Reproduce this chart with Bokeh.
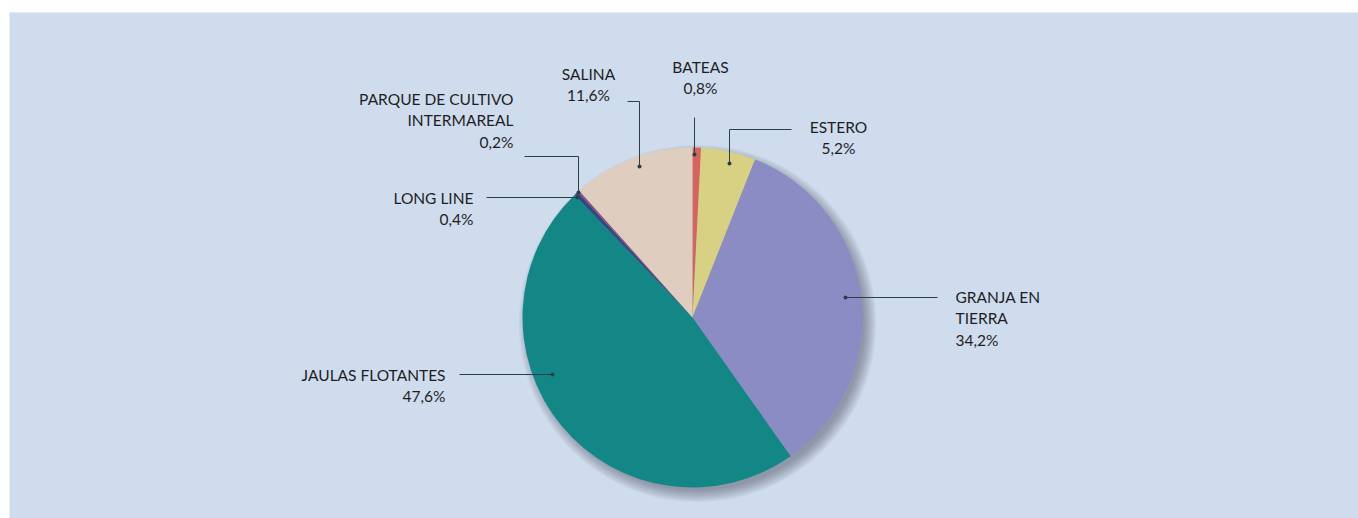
import numpy as np
from bokeh.plotting import figure
from bokeh.models import Range1d, ColumnDataSource
from bokeh.core.properties import value
from bokeh.embed import file_html
from bokeh.resources import INLINE

# ---- data ----
categories = ["BATEAS", "ESTERO", "GRANJA EN TIERRA", "JAULAS FLOTANTES",
              "LONG LINE", "PARQUE DE CULTIVO INTERMAREAL", "SALINA"]
shares = [0.8, 5.2, 34.2, 47.6, 0.4, 0.2, 11.6]
share_labels = ["0,8%", "5,2%", "34,2%", "47,6%", "0,4%", "0,2%", "11,6%"]
colors = ["#D9625F", "#D8D083", "#8C8CC5", "#138786", "#2C4B85", "#9B4C78", "#DFCDBF"]

# ---- layout (screen pixel coords inside page; y downwards) ----
TOP, BOTTOM, LEFT, RIGHT = 12, 518, 9, 1358
CX, CY, R = 692, 317, 170

def sy(y):
    return BOTTOM - y

# label text: (lines, x, first-line y, align)
label_layout = {
    "BATEAS": (["BATEAS"], 700, 66, "center"),
    "ESTERO": (["ESTERO"], 838, 126, "center"),
    "GRANJA EN TIERRA": (["GRANJA EN", "TIERRA"], 955, 296, "left"),
    "JAULAS FLOTANTES": (["JAULAS FLOTANTES"], 445, 374, "right"),
    "LONG LINE": (["LONG LINE"], 473, 197, "right"),
    "PARQUE DE CULTIVO INTERMAREAL": (["PARQUE DE CULTIVO", "INTERMAREAL"], 513, 98, "right"),
    "SALINA": (["SALINA"], 588, 73, "center"),
}
# leader polylines (screen coords), last point = dot
leader_layout = {
    "BATEAS": [(694, 117), (694, 154)],
    "ESTERO": [(791, 129), (729, 129), (729, 163)],
    "GRANJA EN TIERRA": [(937, 297), (845, 297)],
    "JAULAS FLOTANTES": [(459, 374), (552, 374)],
    "LONG LINE": [(486, 197), (577, 197)],
    "PARQUE DE CULTIVO INTERMAREAL": [(524, 156), (578, 156), (578, 192)],
    "SALINA": [(627, 101), (639, 101), (639, 166)],
}
LINE_H = 21.5

p = figure(width=RIGHT, height=BOTTOM, output_backend="svg", toolbar_location=None,
           x_range=Range1d(LEFT, RIGHT), y_range=Range1d(0, BOTTOM - TOP),
           min_border_left=LEFT, min_border_right=0, min_border_top=TOP, min_border_bottom=0)
p.border_fill_color = "white"
p.background_fill_color = "#CFDCEE"
p.outline_line_color = None
p.axis.visible = False
p.grid.visible = False

# soft shadow
for k in range(10):
    p.circle(x=CX + 5, y=sy(CY) - 6, radius=R - 3 + k * 1.3, fill_color="#3A4250",
             fill_alpha=0.05, line_color=None)

# pie
frac = np.array(shares) / sum(shares)
cum = np.concatenate([[0], np.cumsum(frac)])
src = ColumnDataSource(dict(
    start=np.pi / 2 - 2 * np.pi * cum[:-1],
    end=np.pi / 2 - 2 * np.pi * cum[1:],
    color=colors,
    name=categories,
))
p.wedge(x=CX, y=sy(CY), radius=R, start_angle="start", end_angle="end",
        direction="clock", fill_color="color", line_color=None, source=src)

# leader lines
lead_color = "#2B3F48"
xs, ys, dx, dy = [], [], [], []
for c in categories:
    pts = leader_layout[c]
    xs.append([q[0] for q in pts])
    ys.append([sy(q[1]) for q in pts])
    dx.append(pts[-1][0])
    dy.append(sy(pts[-1][1]))
p.multi_line(xs=xs, ys=ys, line_color=lead_color, line_width=1)
p.scatter(x=dx, y=dy, size=4, fill_color=lead_color, line_color=None)

# labels
for c, lab in zip(categories, share_labels):
    lines, x, y0, align = label_layout[c]
    all_lines = lines + [lab]
    tx = [x] * len(all_lines)
    ty = [sy(y0 + i * LINE_H) for i in range(len(all_lines))]
    p.text(x=tx, y=ty, text=all_lines, text_font=value("Lato"), text_font_size="15.5px",
           text_color="#1E1E1E", text_align=align, text_baseline="middle")

open("out.html", "w").write(file_html(p, INLINE))
